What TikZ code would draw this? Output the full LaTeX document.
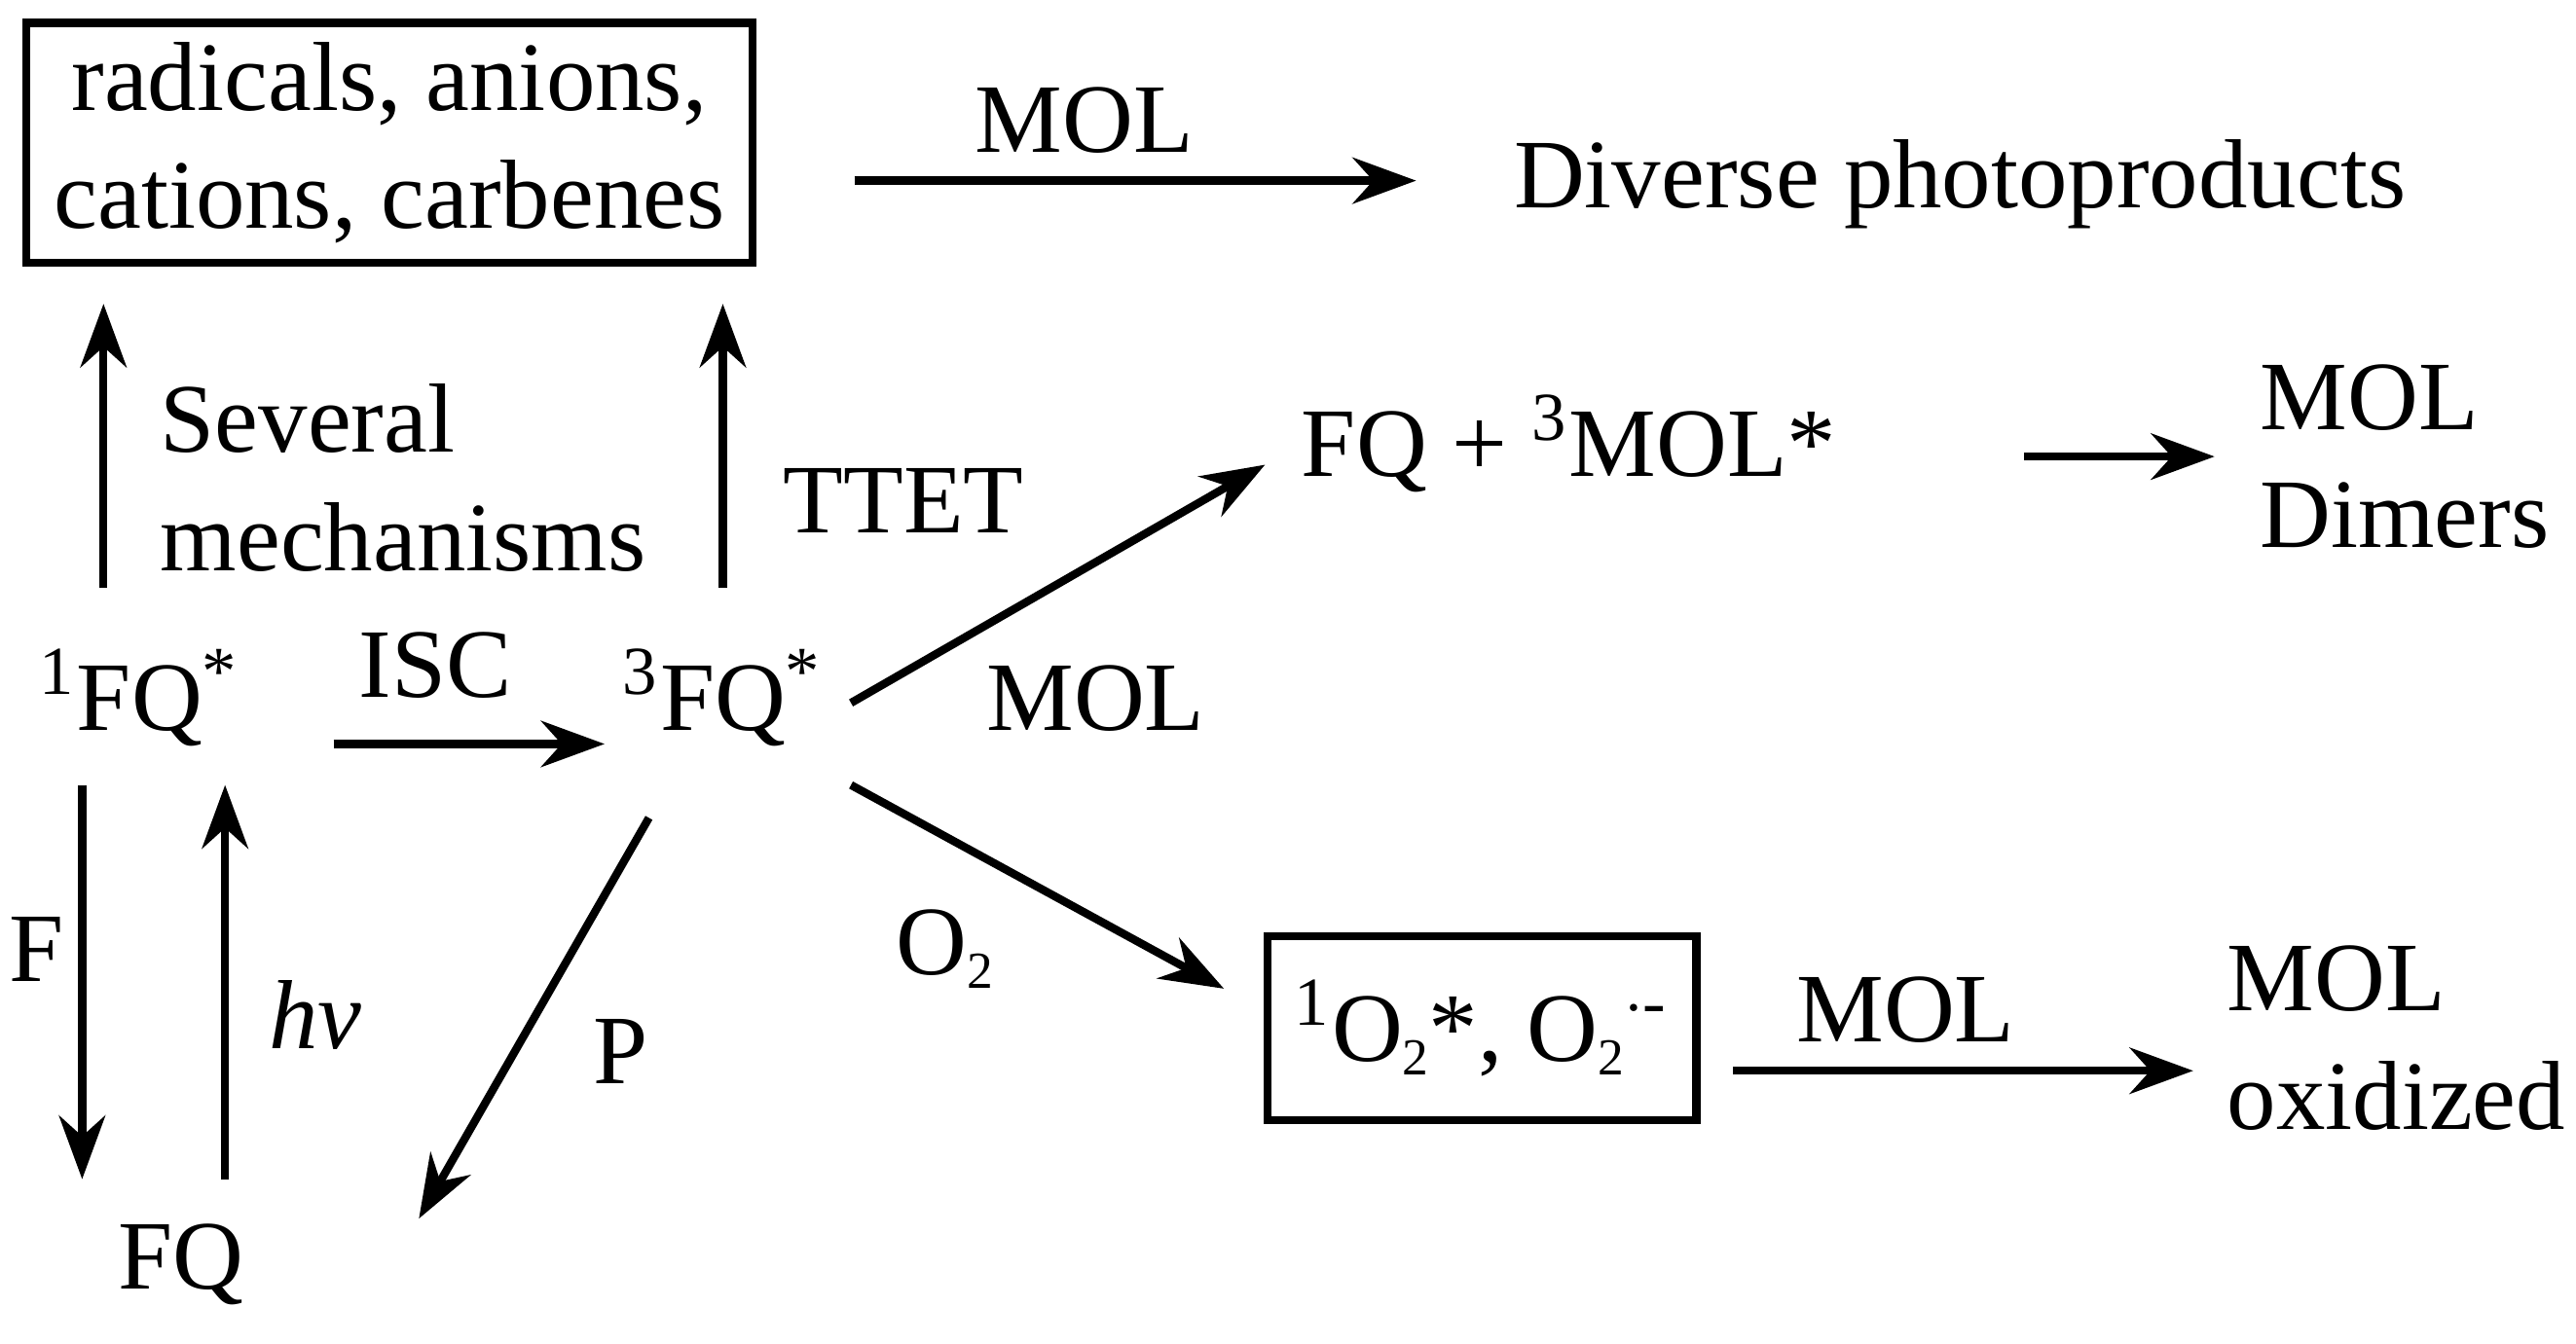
\documentclass[tikz,border=0pt]{standalone}
\usepackage{fontspec}
\setmainfont{Liberation Serif}
\usetikzlibrary{arrows.meta}
\newcommand{\sps}[1]{\textsuperscript{#1}}
\newcommand{\sbs}[1]{\raisebox{-0.3ex}{\small #1}}
\begin{document}
\begin{tikzpicture}[x=0.01cm,y=-0.01cm,
  lbl/.style={font=\fontsize{17}{20.5}\selectfont, inner sep=0pt},
  arr/.style={line width=1.4pt,-{Stealth[length=11pt,width=8pt]}},
  bx/.style={draw,line width=1.4pt}]
\useasboundingbox (0,0) rectangle (1568,818);
\node[bx,minimum width=4.42cm,minimum height=1.46cm,lbl,align=center] (rad) at (237,87) {radicals, anions,\\cations, carbenes};
\node[lbl] (mol1) at (660,73) {MOL};
\node[lbl] (div) at (1193,112) {Diverse photoproducts};
\node[lbl,align=left,anchor=west] (sev) at (97,291) {Several\\mechanisms};
\node[lbl] (ttet) at (550,305) {TTET};
\node[lbl] (s1) at (85,425) {\sps{1}FQ\sps{*}};
\node[lbl] (isc) at (265,405) {ISC};
\node[lbl] (t3) at (440,425) {\sps{3}FQ\sps{*}};
\node[lbl] (mol2) at (667,425) {MOL};
\node[lbl] (fq3) at (955,270) {FQ + \sps{3}MOL*};
\node[lbl,align=left,anchor=west] (dim) at (1375,278) {MOL\\Dimers};
\node[lbl] (o2l) at (575,578) {O\sbs{2}};
\node[bx,minimum width=2.61cm,minimum height=1.12cm,lbl] (ox) at (902,626) {\sps{1}O\sbs{2}*, O\sbs{2}\sps{$\cdot$-}};
\node[lbl] (mol3) at (1160,615) {MOL};
\node[lbl,align=left,anchor=west] (oxd) at (1355,632) {MOL\\oxidized};
\node[lbl] (p) at (378,640) {P};
\node[lbl] (f) at (22,578) {F};
\node[lbl] (hv) at (192,618) {\textit{hv}};
\node[lbl] (fq) at (110,770) {FQ};
\coordinate (a1) at (520,110); \coordinate (a2) at (862,110);
\coordinate (b1) at (63,358); \coordinate (b2) at (63,185);
\coordinate (c1) at (440,358); \coordinate (c2) at (440,185);
\coordinate (d1) at (203,453); \coordinate (d2) at (368,453);
\coordinate (e1) at (518,428); \coordinate (e2) at (770,283);
\coordinate (g1) at (1232,278); \coordinate (g2) at (1348,278);
\coordinate (h1) at (518,478); \coordinate (h2) at (745,602);
\coordinate (i1) at (1055,652); \coordinate (i2) at (1335,652);
\coordinate (j1) at (395,498); \coordinate (j2) at (255,742);
\coordinate (k1) at (50,478); \coordinate (k2) at (50,718);
\coordinate (l1) at (137,718); \coordinate (l2) at (137,478);
\foreach \u/\v in {a1/a2,b1/b2,c1/c2,d1/d2,e1/e2,g1/g2,h1/h2,i1/i2,j1/j2,k1/k2,l1/l2}
  \draw[arr] (\u) -- (\v);
\end{tikzpicture}
\end{document}
